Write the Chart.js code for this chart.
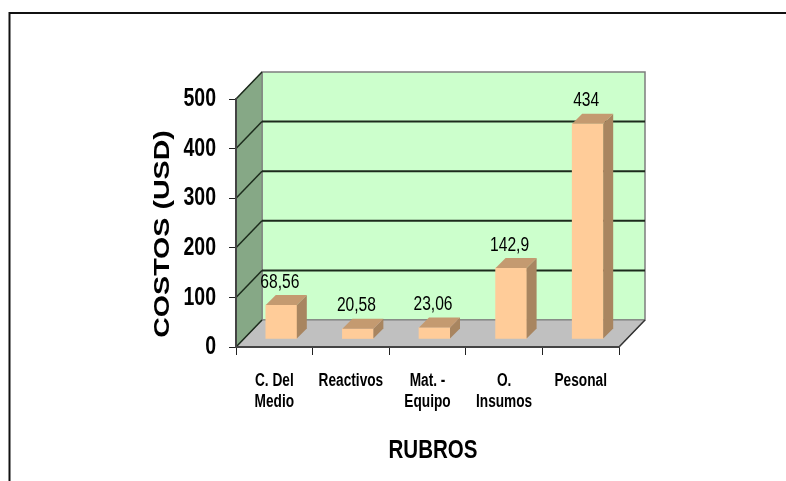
<!DOCTYPE html>
<html>
<head>
<meta charset="utf-8">
<title>Costos por rubro</title>
<script src="https://cdn.jsdelivr.net/npm/chart.js@4/dist/chart.umd.min.js"></script>
<style>
    html, body { margin: 0; padding: 0; background: #fff; overflow: hidden; }
    canvas { display: block; }
</style>
</head>
<body>
<canvas id="costChart" width="786" height="481"></canvas>
<script>
// === Data ===
const categories = [['C. Del', 'Medio'], 'Reactivos', ['Mat. -', 'Equipo'], ['O.', 'Insumos'], 'Pesonal'];
const costs = [68.56, 20.58, 23.06, 142.9, 434];
const costLabels = ['68,56', '20,58', '23,06', '142,9', '434'];

// === Look ===
const sans = "'Liberation Sans', Arial, sans-serif";
const colors = {
    wall: '#ccffcc',
    sideWall: '#86a886',
    floor: '#c0c0c0',
    edge: '#7d7d7d',
    grid: '#1c2b1c',
    bar: '#ffcc99',
    barSide: '#a88560',
    barTop: '#c49a70'
};
const wallDepth = { x: 26, y: 27 };
const barDepth = { x: 10, y: 10 };
const barShift = { x: 7, y: 8 };

function poly(ctx, points, fill, stroke, width) {
    ctx.beginPath();
    points.forEach((p, i) => i ? ctx.lineTo(p[0], p[1]) : ctx.moveTo(p[0], p[1]));
    ctx.closePath();
    ctx.fillStyle = fill;
    ctx.fill();
    if (stroke) {
        ctx.strokeStyle = stroke;
        ctx.lineWidth = width || 1;
        ctx.stroke();
    }
}

// no narrow face is installed, so squeeze the normal one
function squeezedText(ctx, text, x, y, font, sx) {
    ctx.save();
    ctx.translate(x, y);
    ctx.scale(sx, 1);
    ctx.font = font;
    ctx.fillText(text, 0, 0);
    ctx.restore();
}

// walls, floor and the frame round the slide
const backdrop = {
    id: 'backdrop',
    beforeDraw(chart) {
        const { ctx, chartArea: a, scales: { y } } = chart;
        const dx = wallDepth.x, dy = wallDepth.y;
        ctx.save();

        ctx.strokeStyle = '#111';
        ctx.lineWidth = 2;
        ctx.beginPath();
        ctx.moveTo(786, 13);
        ctx.lineTo(9.5, 13);
        ctx.lineTo(9.5, 481);
        ctx.stroke();

        poly(ctx, [[a.left + dx, a.top - dy], [a.right + dx, a.top - dy], [a.right + dx, a.bottom - dy], [a.left + dx, a.bottom - dy]], colors.wall, colors.edge, 1.5);
        poly(ctx, [[a.left, a.top], [a.left + dx, a.top - dy], [a.left + dx, a.bottom - dy], [a.left, a.bottom]], colors.sideWall, colors.edge);
        poly(ctx, [[a.left, a.bottom], [a.right, a.bottom], [a.right + dx, a.bottom - dy], [a.left + dx, a.bottom - dy]], colors.floor, colors.edge);

        ctx.strokeStyle = colors.grid;
        y.ticks.forEach(t => {
            const py = y.getPixelForValue(t.value);
            ctx.lineWidth = 1.5;
            ctx.beginPath();
            ctx.moveTo(a.left, py);
            ctx.lineTo(a.left + dx, py - dy);
            ctx.stroke();
            if (t.value > 0 && t.value < 500) {
                ctx.lineWidth = 2;
                ctx.beginPath();
                ctx.moveTo(a.left + dx, py - dy);
                ctx.lineTo(a.right + dx, py - dy);
                ctx.stroke();
            }
        });

        // outer edge of the floor
        ctx.strokeStyle = '#333';
        ctx.lineWidth = 1.5;
        ctx.beginPath();
        ctx.moveTo(a.right, a.bottom);
        ctx.lineTo(a.right + dx, a.bottom - dy);
        ctx.stroke();
        ctx.restore();
    }
};

// stands the bars on the floor and gives them a side and a top
const extrude = {
    id: 'extrude',
    beforeDatasetsDraw(chart) {
        chart.ctx.save();
        chart.ctx.translate(barShift.x, -barShift.y);
    },
    afterDatasetsDraw(chart) {
        const ctx = chart.ctx;
        const dx = barDepth.x, dy = barDepth.y;
        chart.getDatasetMeta(0).data.forEach(bar => {
            const l = bar.x - bar.width / 2, r = bar.x + bar.width / 2;
            poly(ctx, [[r, bar.y], [r + dx, bar.y - dy], [r + dx, bar.base - dy], [r, bar.base]], colors.barSide);
            poly(ctx, [[l, bar.y], [l + dx, bar.y - dy], [r + dx, bar.y - dy], [r, bar.y]], colors.barTop);
        });
        ctx.restore();
    }
};

// tick labels, value labels and axis titles
const captions = {
    id: 'captions',
    afterDraw(chart) {
        const { ctx, chartArea: a, scales: { x, y } } = chart;
        ctx.save();
        ctx.fillStyle = '#000';
        ctx.textBaseline = 'middle';

        ctx.textAlign = 'right';
        y.ticks.forEach(t => {
            squeezedText(ctx, String(t.value), a.left - 20, y.getPixelForValue(t.value), `bold 26px ${sans}`, 0.75);
        });

        ctx.textAlign = 'center';
        categories.forEach((label, i) => {
            [].concat(label).forEach((line, j) => {
                squeezedText(ctx, line, x.getPixelForValue(i), 381 + j * 21, `bold 18px ${sans}`, 0.76);
            });
        });

        chart.getDatasetMeta(0).data.forEach((bar, i) => {
            squeezedText(ctx, costLabels[i], bar.x + 5.5, bar.y - barShift.y - 23, `20px ${sans}`, 0.78);
        });

        squeezedText(ctx, 'RUBROS', a.left + 197, 451, `bold 26px ${sans}`, 0.79);

        ctx.translate(163, 234);
        ctx.rotate(-Math.PI / 2);
        ctx.scale(1.3, 1);
        ctx.font = `bold 22px ${sans}`;
        ctx.fillText('COSTOS (USD)', 0, 0);
        ctx.restore();
    }
};

// === Chart ===
new Chart(document.getElementById('costChart').getContext('2d'), {
    type: 'bar',
    data: {
        labels: categories,
        datasets: [{
            data: costs,
            backgroundColor: colors.bar,
            barThickness: 31
        }]
    },
    options: {
        responsive: false,
        animation: false,
        layout: { padding: { left: 176, right: 167, top: 99, bottom: 0 } },
        plugins: { legend: { display: false }, tooltip: { enabled: false } },
        scales: {
            x: {
                afterFit(scale) { scale.height = 134; },
                grid: { drawOnChartArea: false, drawTicks: true, tickLength: 8, color: '#222' },
                border: { color: '#444', width: 2 },
                ticks: { display: false, autoSkip: false }
            },
            y: {
                min: 0,
                max: 500,
                afterFit(scale) { scale.width = 60; },
                grid: { drawOnChartArea: false, drawTicks: true, tickLength: 7, color: '#222' },
                border: { color: '#444', width: 2 },
                ticks: { display: false, stepSize: 100 }
            }
        }
    },
    plugins: [backdrop, extrude, captions]
});
</script>
</body>
</html>
